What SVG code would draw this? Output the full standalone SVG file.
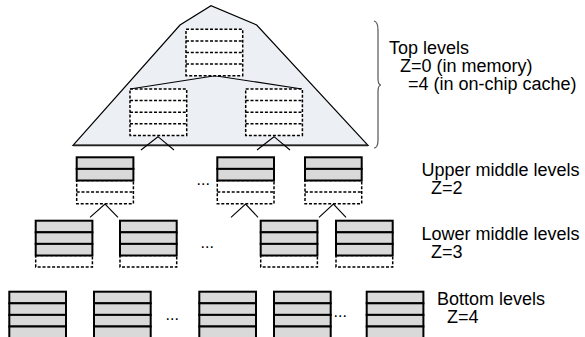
<svg xmlns="http://www.w3.org/2000/svg" xmlns:xlink="http://www.w3.org/1999/xlink" width="585" height="337" viewBox="0 0 585 337">
<style>
.lbl{font-family:"Liberation Sans",Arial,sans-serif;font-size:18px;fill:#000}
.dots{font-family:"Liberation Sans",Arial,sans-serif;font-size:16px;fill:#000}
.dr{fill:#fff;stroke:#000;stroke-width:1.5;stroke-dasharray:3 1.8}
.dl{fill:none;stroke:#000;stroke-width:1.5;stroke-dasharray:3 1.8}
.sr{fill:#d9d9d9;stroke:#000;stroke-width:2}
.cn{fill:none;stroke:#000;stroke-width:1.1}
</style>
<defs>
<g id="nD4">
<rect class="dr" x="0" y="0" width="56.7" height="46.4"/>
<line class="dl" x1="0" y1="11.6" x2="56.7" y2="11.6"/>
<line class="dl" x1="0" y1="23.2" x2="56.7" y2="23.2"/>
<line class="dl" x1="0" y1="34.8" x2="56.7" y2="34.8"/>
</g>
<g id="nS2D2">
<rect class="dr" x="0" y="23.2" width="56.7" height="23.2"/>
<line class="dl" x1="0" y1="34.8" x2="56.7" y2="34.8"/>
<rect class="sr" x="0" y="0" width="56.7" height="11.6"/>
<rect class="sr" x="0" y="11.6" width="56.7" height="11.6"/>
</g>
<g id="nS3D1">
<rect class="dr" x="0" y="34.8" width="56.7" height="11.6"/>
<rect class="sr" x="0" y="0" width="56.7" height="11.6"/>
<rect class="sr" x="0" y="11.6" width="56.7" height="11.6"/>
<rect class="sr" x="0" y="23.2" width="56.7" height="11.6"/>
</g>
<g id="nS4">
<rect class="sr" x="0" y="0" width="56.7" height="11.6"/>
<rect class="sr" x="0" y="11.6" width="56.7" height="11.6"/>
<rect class="sr" x="0" y="23.2" width="56.7" height="11.6"/>
<rect class="sr" x="0" y="34.8" width="56.7" height="11.6"/>
</g>
</defs>
<rect x="0" y="0" width="585" height="337" fill="#fff"/>
<g id="top-region">
<polygon points="73,145.3 180,25 211,5.7 256.7,25 368,145.3" fill="#eceff4" stroke="#000" stroke-width="1.2" stroke-linejoin="miter"/>
<line x1="73" y1="145.3" x2="368" y2="145.3" stroke="#222" stroke-width="1.8"/>
</g>
<g id="connectors">
<polyline class="cn" points="130,89 215,75.7 302,89"/>
<polyline class="cn" points="141,150 158,136.7 174,150"/>
<polyline class="cn" points="257,150 274,136.7 290,150"/>
<polyline class="cn" points="90,217.3 105,204 118,217.3"/>
<polyline class="cn" points="231,217.3 245.6,204 258,217.3"/>
<polyline class="cn" points="319,217.3 333.4,204 346,217.3"/>
</g>
<g id="n-top"><use xlink:href="#nD4" x="186" y="29.3"/></g>
<g id="n-l2a"><use xlink:href="#nD4" x="130" y="89"/></g>
<g id="n-l2b"><use xlink:href="#nD4" x="245.7" y="89"/></g>
<g id="n-um1"><use xlink:href="#nS2D2" x="76.7" y="157.3"/></g>
<g id="n-um2"><use xlink:href="#nS2D2" x="217.3" y="157.3"/></g>
<g id="n-um3"><use xlink:href="#nS2D2" x="305" y="157.3"/></g>
<g id="n-lm1"><use xlink:href="#nS3D1" x="35.7" y="220.7"/></g>
<g id="n-lm2"><use xlink:href="#nS3D1" x="120" y="220.7"/></g>
<g id="n-lm3"><use xlink:href="#nS3D1" x="260.7" y="220.7"/></g>
<g id="n-lm4"><use xlink:href="#nS3D1" x="336" y="220.7"/></g>
<g id="n-b1"><use xlink:href="#nS4" x="9.3" y="291.7"/></g>
<g id="n-b2"><use xlink:href="#nS4" x="94" y="291.7"/></g>
<g id="n-b3"><use xlink:href="#nS4" x="199.3" y="291.7"/></g>
<g id="n-b4"><use xlink:href="#nS4" x="274" y="291.7"/></g>
<g id="n-b5"><use xlink:href="#nS4" x="366.7" y="291.7"/></g>
<g id="ellipses">
<text class="dots" x="196.5" y="184.5">...</text>
<text class="dots" x="200.5" y="247.5">...</text>
<text class="dots" x="165.5" y="319.5">...</text>
<text class="dots" x="333.5" y="316.5">...</text>
</g>
<g id="brace">
<path d="M374,21 Q378,22 378,30 L378,78 Q378,85 381,85 Q378,85 378,92 L378,140 Q378,148 374,148" fill="none" stroke="#555" stroke-width="1.2"/>
</g>
<g id="labels">
<text class="lbl" x="389" y="54">Top levels</text>
<text class="lbl" x="400" y="72">Z=0 (in memory)</text>
<text class="lbl" x="408" y="90">=4 (in on-chip cache)</text>
<text class="lbl" x="421.5" y="176">Upper middle levels</text>
<text class="lbl" x="431" y="194">Z=2</text>
<text class="lbl" x="421.5" y="240">Lower middle levels</text>
<text class="lbl" x="431" y="258">Z=3</text>
<text class="lbl" x="437" y="305">Bottom levels</text>
<text class="lbl" x="447" y="323">Z=4</text>
</g>
</svg>
